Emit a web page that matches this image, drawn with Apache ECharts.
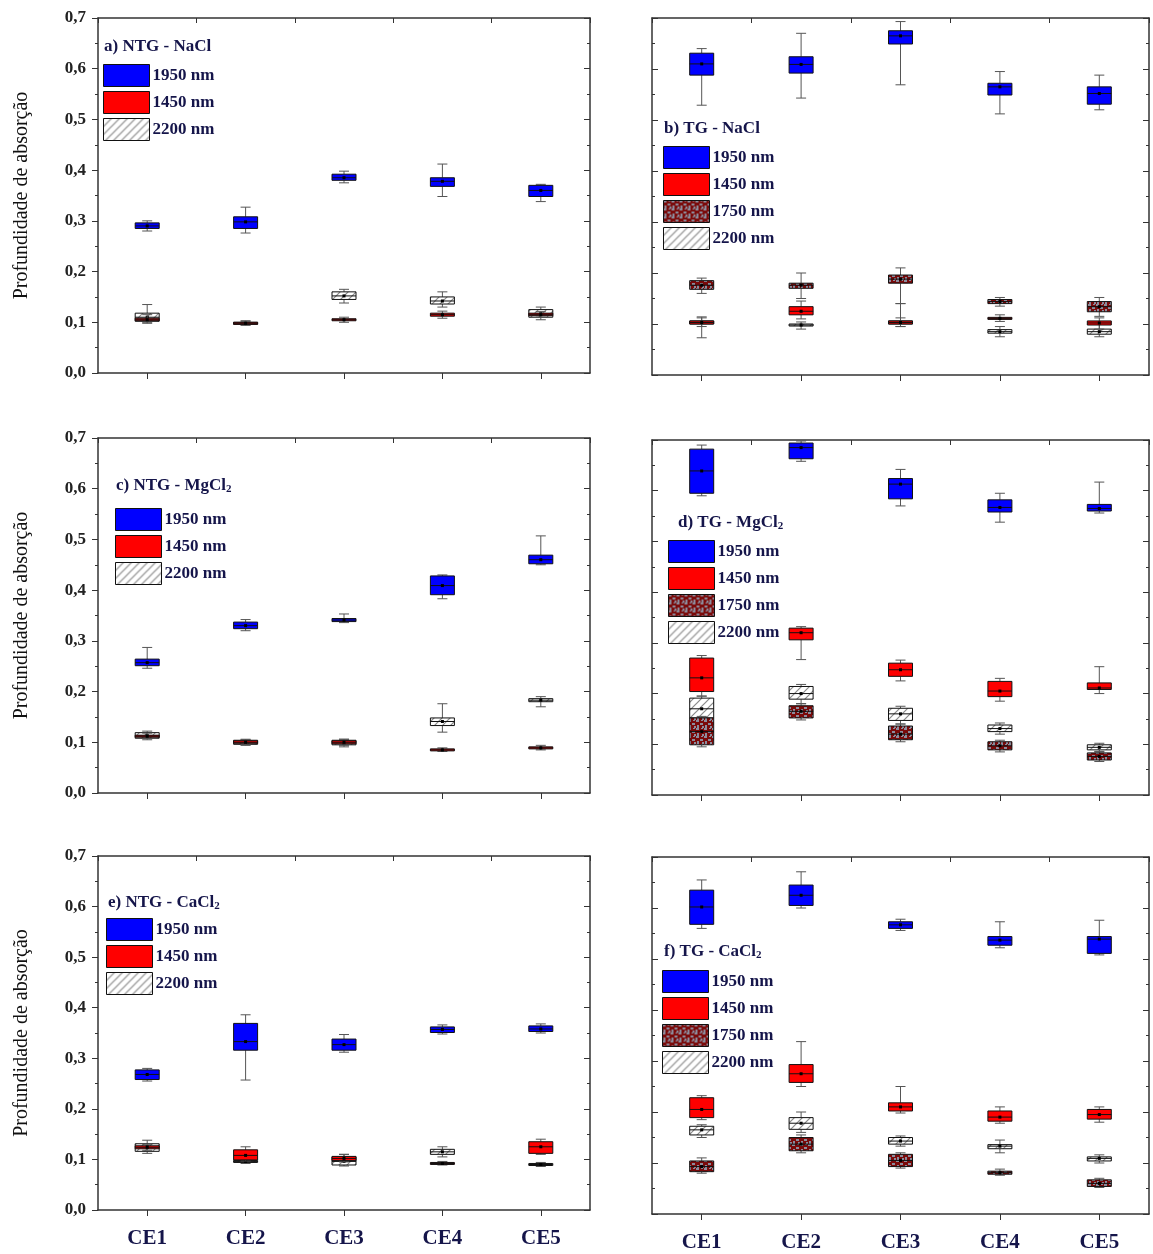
<!DOCTYPE html>
<html><head><meta charset="utf-8">
<script src="https://cdn.jsdelivr.net/npm/echarts@6/dist/echarts.min.js"></script>
<style>html,body{margin:0;padding:0;background:#fff}#c{width:1153px;height:1254px}</style>
</head><body><div id="c"></div>
<script>
// ---------- DATA ----------
const categories = ['CE1','CE2','CE3','CE4','CE5'];
const yTicks = [0,0.1,0.2,0.3,0.4,0.5,0.6,0.7];
// each item: [min, q1, median, q3, max]
const a1950 = [[0.280,0.285,0.290,0.296,0.300],[0.276,0.285,0.298,0.308,0.327],[0.375,0.380,0.385,0.392,0.398],[0.348,0.368,0.378,0.385,0.412],[0.338,0.348,0.360,0.370,0.372]];
const a1450 = [[0.100,0.103,0.105,0.108,0.115],[0.094,0.096,0.098,0.100,0.102],[0.100,0.103,0.105,0.107,0.110],[0.108,0.112,0.115,0.118,0.122],[0.110,0.113,0.115,0.118,0.121]];
const a2200 = [[0.098,0.102,0.110,0.118,0.135],[0.095,0.097,0.098,0.100,0.103],[0.138,0.145,0.152,0.160,0.165],[0.130,0.136,0.142,0.150,0.160],[0.105,0.110,0.117,0.125,0.130]];

const b1950 = [[0.529,0.588,0.610,0.631,0.640],[0.543,0.592,0.609,0.624,0.670],[0.569,0.649,0.665,0.675,0.693],[0.512,0.549,0.565,0.572,0.595],[0.520,0.531,0.552,0.565,0.588]];
const b1450 = [[0.095,0.100,0.103,0.106,0.112],[0.110,0.118,0.125,0.134,0.145],[0.095,0.100,0.103,0.106,0.140],[0.105,0.109,0.111,0.113,0.118],[0.090,0.098,0.102,0.106,0.112]];
const b1750 = [[0.160,0.168,0.176,0.185,0.190],[0.150,0.170,0.176,0.180,0.200],[0.140,0.180,0.188,0.196,0.210],[0.135,0.140,0.144,0.148,0.152],[0.115,0.124,0.134,0.144,0.152]];
const b2200 = [[0.073,0.100,0.103,0.106,0.114],[0.090,0.096,0.098,0.100,0.104],[0.095,0.100,0.103,0.106,0.112],[0.075,0.082,0.085,0.089,0.095],[0.075,0.080,0.085,0.090,0.100]];

const c1950 = [[0.246,0.251,0.257,0.264,0.287],[0.320,0.324,0.330,0.337,0.342],[0.336,0.338,0.341,0.344,0.353],[0.383,0.391,0.409,0.428,0.430],[0.450,0.452,0.460,0.469,0.507]];
const c1450 = [[0.108,0.110,0.112,0.114,0.118],[0.095,0.098,0.100,0.103,0.105],[0.094,0.097,0.100,0.103,0.106],[0.082,0.084,0.085,0.087,0.089],[0.085,0.087,0.089,0.091,0.094]];
const c2200 = [[0.105,0.108,0.113,0.119,0.122],[0.094,0.096,0.100,0.104,0.106],[0.091,0.095,0.099,0.104,0.106],[0.120,0.133,0.141,0.148,0.176],[0.170,0.180,0.183,0.186,0.190]];

const d1950 = [[0.590,0.595,0.639,0.682,0.690],[0.658,0.663,0.685,0.694,0.698],[0.570,0.584,0.613,0.624,0.642],[0.538,0.558,0.567,0.582,0.595],[0.556,0.560,0.565,0.573,0.617]];
const d1450 = [[0.195,0.204,0.231,0.270,0.275],[0.267,0.306,0.320,0.329,0.332],[0.225,0.234,0.247,0.260,0.266],[0.185,0.194,0.205,0.224,0.230],[0.200,0.208,0.211,0.221,0.253]];
const d1750 = [[0.095,0.099,0.125,0.152,0.155],[0.148,0.152,0.165,0.176,0.180],[0.105,0.109,0.120,0.136,0.140],[0.085,0.089,0.097,0.105,0.108],[0.066,0.069,0.076,0.083,0.086]];
const d2200 = [[0.150,0.152,0.170,0.191,0.195],[0.180,0.189,0.200,0.214,0.218],[0.140,0.147,0.160,0.171,0.175],[0.120,0.125,0.131,0.138,0.142],[0.085,0.089,0.094,0.099,0.102]];

const e1950 = [[0.255,0.258,0.268,0.277,0.280],[0.257,0.316,0.333,0.369,0.386],[0.312,0.316,0.327,0.338,0.347],[0.348,0.351,0.357,0.362,0.366],[0.350,0.353,0.358,0.364,0.368]];
const e1450 = [[0.118,0.121,0.124,0.127,0.130],[0.097,0.099,0.108,0.119,0.125],[0.095,0.098,0.102,0.106,0.110],[0.089,0.091,0.092,0.094,0.096],[0.110,0.112,0.125,0.135,0.140]];
const e2200 = [[0.112,0.116,0.125,0.131,0.138],[0.092,0.094,0.096,0.098,0.100],[0.087,0.089,0.096,0.105,0.110],[0.105,0.110,0.115,0.120,0.125],[0.086,0.088,0.090,0.092,0.094]];

const f1950 = [[0.560,0.568,0.602,0.635,0.655],[0.600,0.605,0.625,0.645,0.671],[0.556,0.560,0.567,0.573,0.578],[0.522,0.527,0.537,0.544,0.573],[0.508,0.511,0.539,0.544,0.576]];
const f1450 = [[0.185,0.189,0.205,0.228,0.232],[0.250,0.258,0.275,0.293,0.338],[0.198,0.202,0.210,0.218,0.250],[0.178,0.182,0.190,0.202,0.210],[0.180,0.186,0.195,0.205,0.210]];
const f1750 = [[0.080,0.083,0.093,0.104,0.110],[0.120,0.124,0.137,0.150,0.155],[0.090,0.093,0.105,0.117,0.120],[0.076,0.078,0.081,0.084,0.088],[0.052,0.054,0.060,0.067,0.070]];
const f2200 = [[0.150,0.155,0.165,0.172,0.175],[0.160,0.166,0.178,0.189,0.200],[0.133,0.137,0.143,0.150,0.153],[0.120,0.128,0.133,0.136,0.145],[0.100,0.104,0.109,0.112,0.116]];

const panelTitles = ['a) NTG - NaCl','b) TG - NaCl','c) NTG - MgCl{s|2}','d) TG - MgCl{s|2}','e) NTG - CaCl{s|2}','f) TG - CaCl{s|2}'];
const yAxisTitle = 'Profundidade de absorção';

// ---------- STYLE ----------
const SERIF = "'Liberation Serif','DejaVu Serif',serif";
function makeHatch(){
  const cv = document.createElement('canvas'); cv.width = 8; cv.height = 8;
  const g = cv.getContext('2d');
  g.fillStyle = '#ffffff'; g.fillRect(0,0,8,8);
  g.strokeStyle = '#8a8a8a'; g.lineWidth = 1.2;
  g.beginPath(); g.moveTo(0,8); g.lineTo(8,0); g.moveTo(-2,2); g.lineTo(2,-2); g.moveTo(6,10); g.lineTo(10,6); g.stroke();
  return cv;
}
function makeMottle(){
  const cv = document.createElement('canvas'); cv.width = 8; cv.height = 8;
  const g = cv.getContext('2d');
  g.fillStyle = '#7a0a0a'; g.fillRect(0,0,8,8);
  g.fillStyle = '#8c8c9c';
  g.fillRect(0,0,3,2); g.fillRect(4,3,3,2); g.fillRect(1,5,2,3); g.fillRect(6,6,2,2); g.fillRect(5,0,2,1);
  return cv;
}
const fills = {
  '1950 nm': '#0000ff',
  '1450 nm': '#ff0000',
  '1750 nm': {image: makeMottle(), repeat: 'repeat'},
  '2200 nm': {image: makeHatch(), repeat: 'repeat'}
};

function boxRenderer(fill){
  return function(params, api){
    const c = api.value(0);
    const ys = [1,2,3,4,5].map(i => api.coord([c, api.value(i)])[1]);
    const x = api.coord([c, api.value(1)])[0];
    const w = 24, cap = 10;
    const [yMin, yQ1, yMed, yQ3, yMax] = ys;
    const h = Math.max(yQ1 - yQ3, 2);
    return {type:'group', children:[
      {type:'line', shape:{x1:x,y1:yMax,x2:x,y2:yQ3}, style:{stroke:'#555',lineWidth:1}},
      {type:'line', shape:{x1:x,y1:yQ1,x2:x,y2:yMin}, style:{stroke:'#555',lineWidth:1}},
      {type:'line', shape:{x1:x-cap/2,y1:yMax,x2:x+cap/2,y2:yMax}, style:{stroke:'#555',lineWidth:1}},
      {type:'line', shape:{x1:x-cap/2,y1:yMin,x2:x+cap/2,y2:yMin}, style:{stroke:'#555',lineWidth:1}},
      {type:'rect', shape:{x:x-w/2,y:yQ3,width:w,height:h}, style:{fill:fill,stroke:'#111',lineWidth:1}},
      {type:'line', shape:{x1:x-w/2,y1:yMed,x2:x+w/2,y2:yMed}, style:{stroke:'#111',lineWidth:1}},
      {type:'rect', shape:{x:x-1.5,y:yMed-1.5,width:3,height:3}, style:{fill:'#000'}}
    ]};
  };
}

// ---------- LAYOUT ----------
const L = 98, LW = 492, R = 652, RW = 497;
const panels = [
  {left:L, width:LW, top:18,  height:355, side:'L', bottom:false, data:{'2200 nm':a2200,'1450 nm':a1450,'1950 nm':a1950}, legend:['1950 nm','1450 nm','2200 nm'], title:[104,38], leg:[103,64]},
  {left:R, width:RW, top:18,  height:357, side:'R', bottom:false, data:{'2200 nm':b2200,'1750 nm':b1750,'1450 nm':b1450,'1950 nm':b1950}, legend:['1950 nm','1450 nm','1750 nm','2200 nm'], title:[664,120], leg:[663,146]},
  {left:L, width:LW, top:438, height:355, side:'L', bottom:false, data:{'2200 nm':c2200,'1450 nm':c1450,'1950 nm':c1950}, legend:['1950 nm','1450 nm','2200 nm'], title:[116,476], leg:[115,508]},
  {left:R, width:RW, top:440, height:355, side:'R', bottom:false, data:{'2200 nm':d2200,'1750 nm':d1750,'1450 nm':d1450,'1950 nm':d1950}, legend:['1950 nm','1450 nm','1750 nm','2200 nm'], title:[678,513], leg:[668,540]},
  {left:L, width:LW, top:856, height:354, side:'L', bottom:true, data:{'2200 nm':e2200,'1450 nm':e1450,'1950 nm':e1950}, legend:['1950 nm','1450 nm','2200 nm'], title:[108,893], leg:[106,918]},
  {left:R, width:RW, top:857, height:357, side:'R', bottom:true, data:{'2200 nm':f2200,'1750 nm':f1750,'1450 nm':f1450,'1950 nm':f1950}, legend:['1950 nm','1450 nm','1750 nm','2200 nm'], title:[664,942], leg:[662,970]}
];

const grid=[], xAxis=[], yAxis=[], series=[], legend=[], title=[];
const axisLine = {show:true, onZero:false, lineStyle:{color:'#333', width:1.5}};
panels.forEach((p, i) => {
  grid.push({left:p.left, top:p.top, width:p.width, height:p.height});
  xAxis.push({type:'category', gridIndex:i, data:categories, position:'bottom',
    axisLine, axisTick:{show:true, alignWithLabel:true, inside:false, length:6, lineStyle:{color:'#333'}},
    axisLabel:{show:p.bottom, margin:18, fontFamily:SERIF, fontWeight:'bold', fontSize:21, color:'#15154a'},
    splitLine:{show:false}});
  xAxis.push({type:'category', gridIndex:i, data:categories, position:'top',
    axisLine, axisTick:{show:true, inside:true, length:5, lineStyle:{color:'#333'}},
    axisLabel:{show:false}, splitLine:{show:false}});
  yAxis.push({type:'value', gridIndex:i, min:0, max:0.7, interval:0.1, position:'left',
    axisLine, axisTick:{show:true, inside:p.side==='R', length:6, lineStyle:{color:'#333'}},
    minorTick:{show:true, splitNumber:2, length:3, lineStyle:{color:'#333'}},
    axisLabel:{show:p.side==='L', margin:12, fontFamily:SERIF, fontWeight:'bold', fontSize:17, color:'#222',
      formatter: v => v.toFixed(1).replace('.', ',')},
    splitLine:{show:false},
    name: p.side==='L' ? yAxisTitle : '', nameLocation:'middle', nameGap:66, nameRotate:90,
    nameTextStyle:{fontFamily:SERIF, fontSize:20, color:'#111'}});
  yAxis.push({type:'value', gridIndex:i, min:0, max:0.7, interval:0.1, position:'right',
    axisLine, axisTick:{show:true, inside:true, length:6, lineStyle:{color:'#333'}},
    minorTick:{show:true, splitNumber:2, length:3, lineStyle:{color:'#333'}},
    axisLabel:{show:false}, splitLine:{show:false}});
  Object.keys(p.data).forEach(name => {
    const arr = p.data[name];
    series.push({type:'custom', name, xAxisIndex:2*i, yAxisIndex:2*i,
      itemStyle:{color: fills[name], borderColor:'#111', borderWidth:1},
      renderItem: boxRenderer(fills[name]),
      encode:{x:0, y:[1,2,3,4,5]},
      data: arr.map((v, k) => [k].concat(v)), z: 3});
  });
  legend.push({orient:'vertical', left:p.leg[0], top:p.leg[1], padding:0, itemGap:4,
    itemWidth:46, itemHeight:22, icon:'rect', selectedMode:false, data:p.legend,
    itemStyle:{borderColor:'#111', borderWidth:1},
    textStyle:{fontFamily:SERIF, fontWeight:'bold', fontSize:17, color:'#15154a', padding:[0,0,0,-2]}});
  title.push({text: panelTitles[i], left:p.title[0], top:p.title[1], padding:0,
    textStyle:{fontFamily:SERIF, fontWeight:'bold', fontSize:17, color:'#15154a',
      rich:{s:{fontFamily:SERIF, fontWeight:'bold', fontSize:11, color:'#15154a', verticalAlign:'bottom', padding:[8,0,0,0]}}}});
});

const chart = echarts.init(document.getElementById('c'), null, {renderer:'canvas'});
chart.setOption({animation:false, backgroundColor:'#fff', grid, xAxis, yAxis, series, legend, title});
</script></body></html>
